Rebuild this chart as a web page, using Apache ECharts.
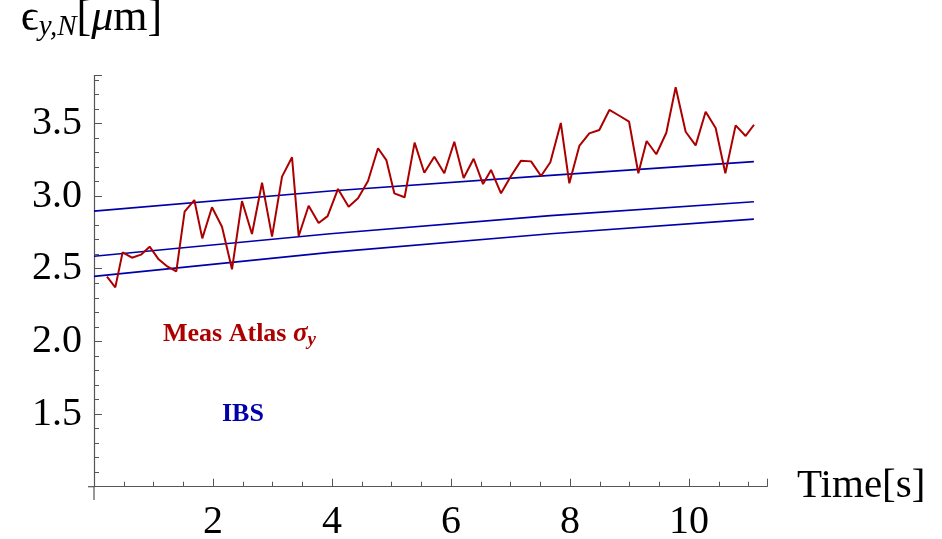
<!DOCTYPE html>
<html>
<head>
<meta charset="utf-8">
<script src="https://cdn.jsdelivr.net/npm/echarts@6/dist/echarts.min.js"></script>
<style>html,body{margin:0;padding:0;background:#fff}#c{width:942px;height:539px}</style>
</head>
<body>
<div id="c"></div>
<script>
// Measured emittance (Atlas sigma_y)
var measTime = [0.218, 0.358, 0.481, 0.638, 0.79, 0.935, 1.086, 1.237, 1.383, 1.523, 1.686, 1.82, 1.983, 2.151, 2.319, 2.487, 2.655, 2.824, 2.992, 3.16, 3.328, 3.44, 3.607, 3.775, 3.926, 4.101, 4.279, 4.437, 4.605, 4.773, 4.913, 5.047, 5.22, 5.388, 5.551, 5.719, 5.887, 6.055, 6.212, 6.38, 6.538, 6.672, 6.84, 7.008, 7.176, 7.345, 7.513, 7.669, 7.845, 7.988, 8.156, 8.324, 8.492, 8.661, 8.829, 8.992, 9.148, 9.287, 9.45, 9.618, 9.775, 9.943, 10.111, 10.279, 10.447, 10.61, 10.783, 10.951, 11.092];
var measValue = [2.445, 2.372, 2.613, 2.576, 2.597, 2.652, 2.565, 2.514, 2.482, 2.893, 2.973, 2.709, 2.923, 2.789, 2.496, 2.966, 2.739, 3.092, 2.721, 3.134, 3.267, 2.725, 2.934, 2.815, 2.862, 3.049, 2.927, 2.985, 3.104, 3.329, 3.248, 3.019, 2.992, 3.368, 3.161, 3.271, 3.157, 3.374, 3.125, 3.257, 3.083, 3.18, 3.019, 3.138, 3.244, 3.239, 3.138, 3.233, 3.503, 3.088, 3.345, 3.432, 3.455, 3.593, 3.553, 3.512, 3.157, 3.379, 3.288, 3.436, 3.749, 3.443, 3.349, 3.581, 3.469, 3.157, 3.487, 3.414, 3.491];
// IBS model curves
var ibsTime = [0, 3.97, 7.67, 11.09];
var ibsTop = [2.897, 3.035, 3.143, 3.237];
var ibsMid = [2.586, 2.741, 2.865, 2.961];
var ibsLow = [2.448, 2.613, 2.741, 2.842];
// axes
var xTickLabels = ['2', '4', '6', '8', '10'];
var yTickLabels = ['1.5', '2.0', '2.5', '3.0', '3.5'];

function pairs(xs, ys) { return xs.map(function (x, i) { return [x, ys[i]]; }); }

var RED = '#ac0000', BLUE = '#0000aa', AXIS = '#555555';
var FONT = '"Liberation Serif","Times New Roman",serif';

var chart = echarts.init(document.getElementById('c'));
function ibsSeries(vals) {
  return { type: 'line', data: pairs(ibsTime, vals), showSymbol: false, symbol: 'none',
    lineStyle: { color: BLUE, width: 1.7 }, animation: false, silent: true };
}
chart.setOption({
  animation: false,
  grid: { left: 94, right: 175, top: 75.5, bottom: 52.3, containLabel: false, outerBoundsMode: 'none' },
  xAxis: {
    type: 'value', min: 0, max: 11.31, interval: 2,
    name: 'Time[s]', nameLocation: 'end', nameGap: 30,
    nameTextStyle: { fontFamily: FONT, fontSize: 41, color: '#000', verticalAlign: 'middle', padding: [10, 0, 0, 0] },
    axisLine: { lineStyle: { color: AXIS, width: 1.2 } },
    axisTick: { inside: true, length: 8, lineStyle: { color: AXIS } },
    minorTick: { show: true, splitNumber: 4, length: 5, lineStyle: { color: AXIS } },
    splitLine: { show: false },
    axisLabel: {
      fontFamily: FONT, fontSize: 40, color: '#000', margin: 16,
      formatter: function (v) { var s = String(v); return xTickLabels.indexOf(s) >= 0 ? s : ''; }
    }
  },
  yAxis: {
    type: 'value', min: 1.0, max: 3.83, interval: 0.5,
    name: '{e|ϵ}{s|y,N}{b|[}{m|μ}{b|m]}', nameLocation: 'end', nameGap: 33.5,
    nameTextStyle: {
      padding: [0, 5, 0, 0],
      rich: {
        e: { fontFamily: FONT, fontSize: 44, color: '#000', lineHeight: 48, verticalAlign: 'middle' },
        s: { fontFamily: FONT, fontSize: 29, fontStyle: 'italic', color: '#000', lineHeight: 28, verticalAlign: 'bottom' },
        b: { fontFamily: FONT, fontSize: 44, color: '#000', lineHeight: 48, verticalAlign: 'middle' },
        m: { fontFamily: FONT, fontSize: 44, fontStyle: 'italic', color: '#000', lineHeight: 48, verticalAlign: 'middle' }
      }
    },
    axisLine: { show: true, lineStyle: { color: AXIS, width: 1.2 } },
    axisTick: { show: true, inside: true, length: 8, lineStyle: { color: AXIS } },
    minorTick: { show: true, splitNumber: 5, length: 5, lineStyle: { color: AXIS } },
    splitLine: { show: false },
    axisLabel: {
      fontFamily: FONT, fontSize: 40, color: '#000', margin: 12, showMaxLabel: false,
      formatter: function (v) { var s = v.toFixed(1); return yTickLabels.indexOf(s) >= 0 ? s : ''; }
    }
  },
  series: [
    ibsSeries(ibsTop), ibsSeries(ibsMid), ibsSeries(ibsLow),
    { type: 'line', data: pairs(measTime, measValue), showSymbol: false, symbol: 'none',
      lineStyle: { color: RED, width: 2 }, animation: false, silent: true }
  ],
  graphic: [
    { type: 'line', silent: true, shape: { x1: 88, y1: 486.7, x2: 94, y2: 486.7 }, style: { stroke: AXIS, lineWidth: 1.2 } },
    { type: 'line', silent: true, shape: { x1: 94, y1: 486.7, x2: 94, y2: 500 }, style: { stroke: AXIS, lineWidth: 1.2 } },
    { type: 'text', left: 163, top: 321, silent: true,
      style: { text: '{a|Meas Atlas }{g|σ}{y|y}', rich: {
        a: { fontFamily: FONT, fontSize: 26, fontWeight: 'bold', fill: RED, lineHeight: 30, verticalAlign: 'middle' },
        g: { fontFamily: FONT, fontSize: 27, fontWeight: 'bold', fontStyle: 'italic', fill: RED, lineHeight: 30, verticalAlign: 'middle' },
        y: { fontFamily: FONT, fontSize: 19, fontWeight: 'bold', fontStyle: 'italic', fill: RED, lineHeight: 15, verticalAlign: 'bottom' }
      } } },
    { type: 'text', left: 222, top: 401, silent: true,
      style: { text: '{a|IBS}', rich: {
        a: { fontFamily: FONT, fontSize: 26, fontWeight: 'bold', fill: BLUE, lineHeight: 30, verticalAlign: 'middle' }
      } } }
  ]
});
</script>
</body>
</html>
